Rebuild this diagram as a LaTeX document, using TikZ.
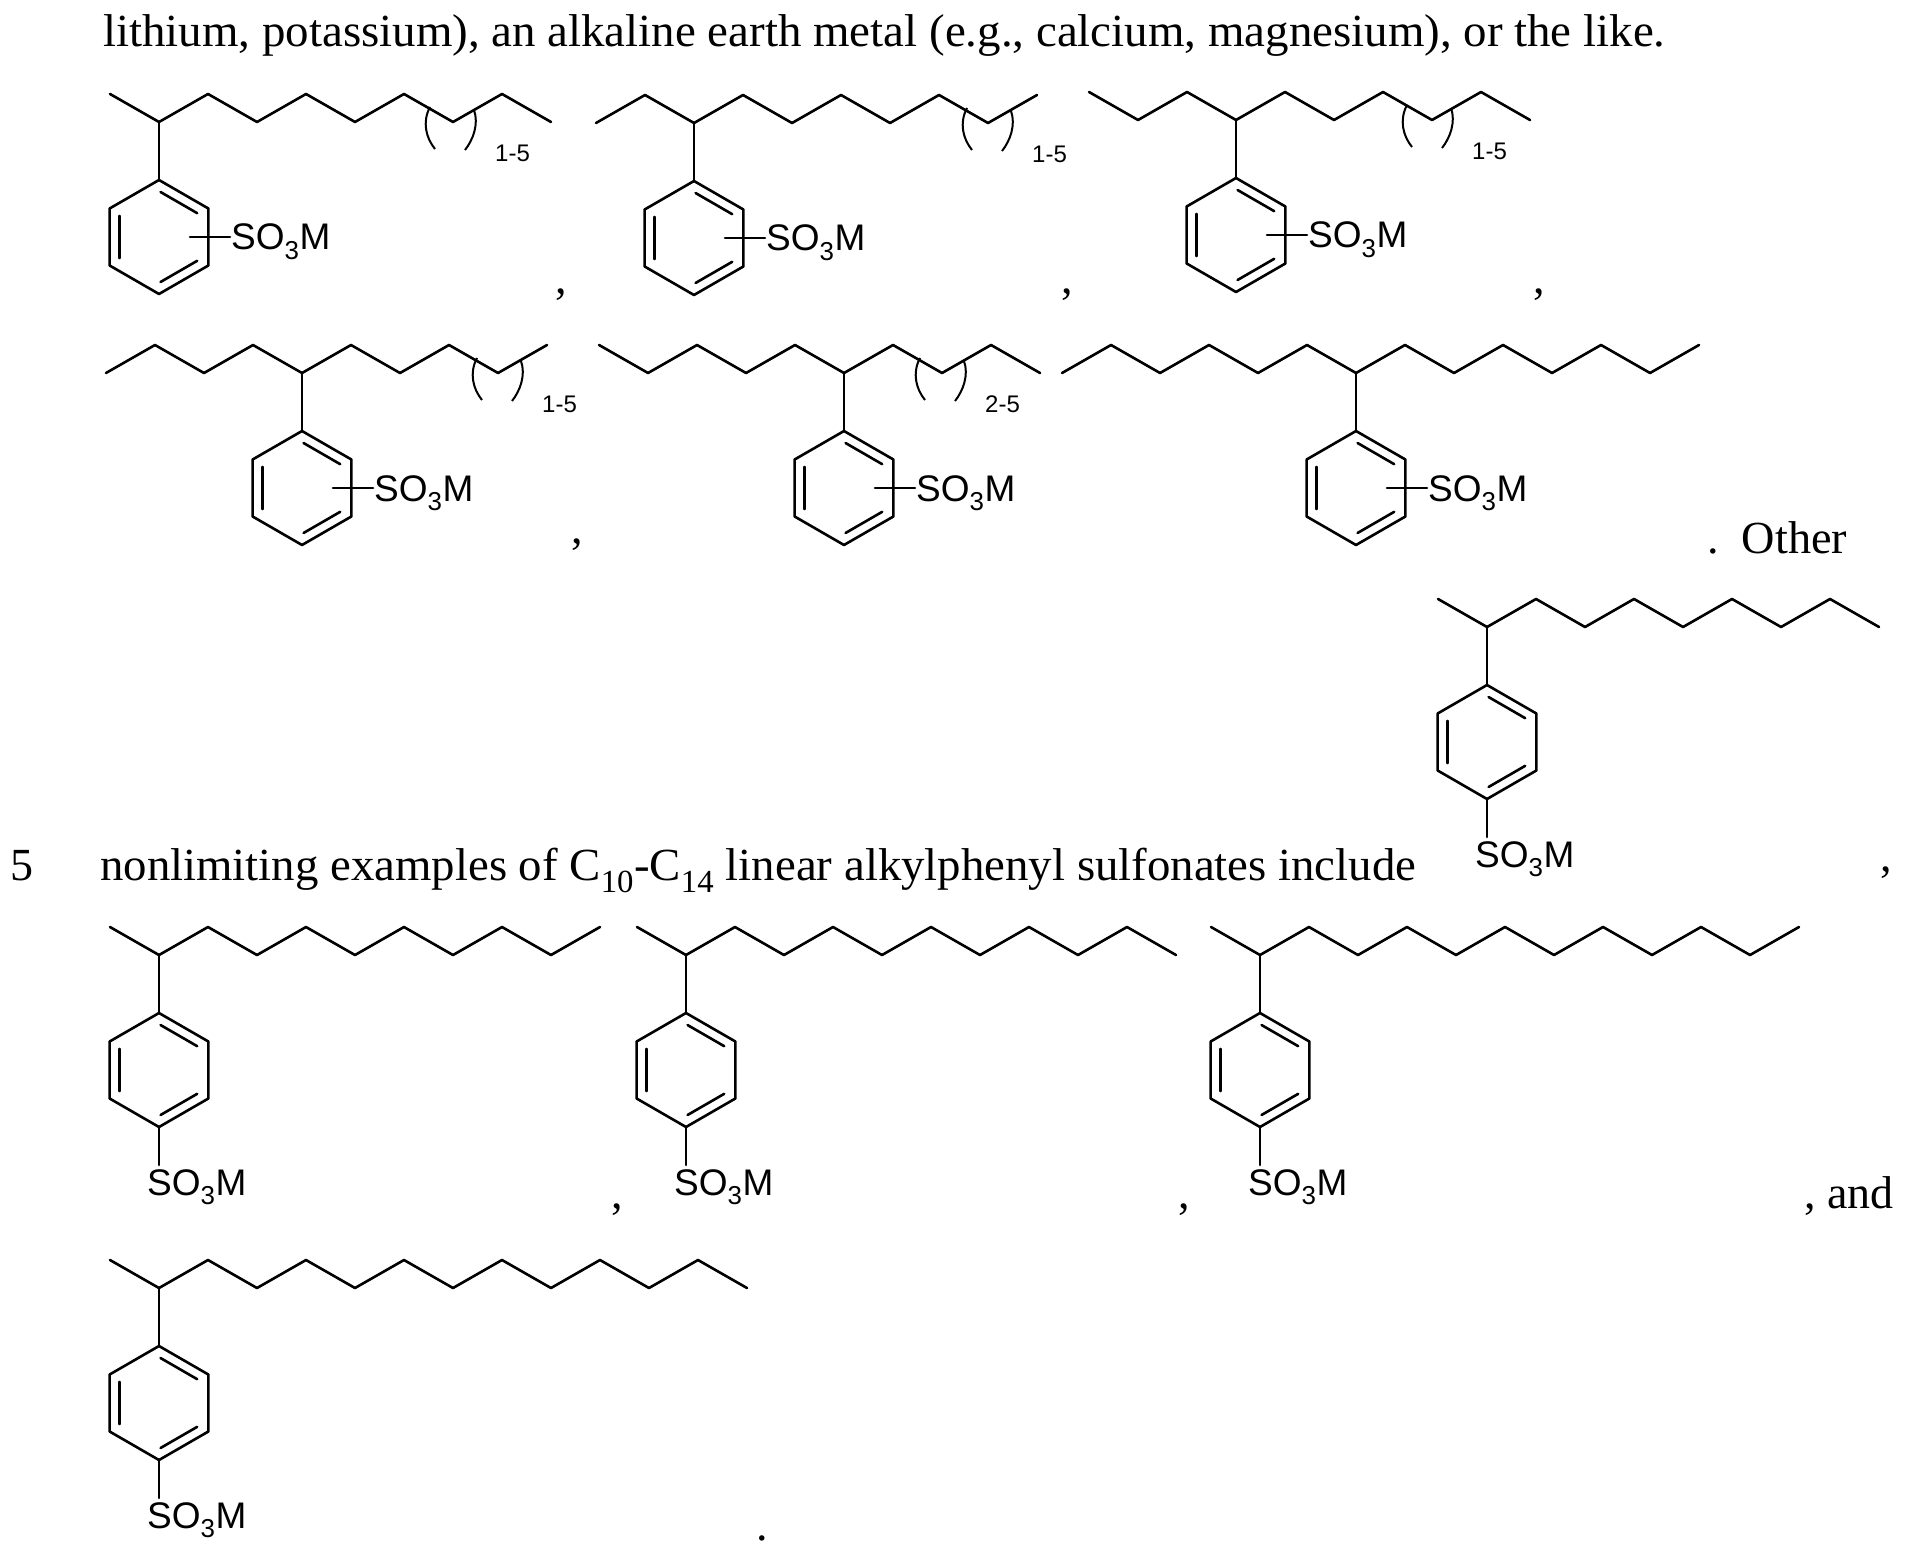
\documentclass[tikz,border=0pt]{standalone}
\usepackage{fontspec}
\setmainfont{Liberation Serif}
\newfontfamily\sansfam{Liberation Sans}
\usetikzlibrary{positioning}
\tikzset{bond/.style={line width=2.6pt, line cap=round, line join=round},
  brk/.style={line width=2pt},
  sulf/.style={inner sep=0pt, font=\sansfam\fontsize{37}{40}\selectfont},
  rng/.style={inner sep=0pt, font=\sansfam\fontsize{24}{26}\selectfont},
  prose/.style={inner sep=0pt, font=\fontsize{46}{50}\selectfont}}
% zigzag chain around the branch carbon (#1,#2)
\newcommand{\alkyl}[4]{\draw[bond] plot[samples at={#3,...,#4}] ({#1+49*\x},{#2-28*mod(abs(\x),2)});}
\newcommand{\benzene}[2]{%
  \begin{scope}[shift={(#1,#2)}]
    \draw[bond] (-90:57) -- (-30:57) -- (30:57) -- (90:57) -- (150:57) -- (210:57) -- cycle;
    \foreach \a in {-90,30,150} \draw[bond] (\a+2:45) -- (\a+58:45);
  \end{scope}}
\newcommand{\parens}[4]{%
  \draw[brk] ({#1-21},{#2-15}) .. controls ({#1-29},{#2}) and ({#1-25},{#2+16}) .. ({#1-16},{#2+27});
  \draw[brk] ({#1+23},{#2-12}) .. controls ({#1+28},{#2+2}) and ({#1+22},{#2+18}) .. ({#1+14},{#2+28});
  \node[rng, anchor=west] (#4) at ({#1+44},{#2+31}) {#3};}
\newcommand{\metamol}[5]{%
  \alkyl{#1}{#2}{#3}{#4}
  \draw[bond] (#1,#2) -- (#1,{#2+58});
  \benzene{#1}{#2+115}
  \draw[bond] ({#1+31},{#2+115}) -- ({#1+71},{#2+115});
  \node[sulf, anchor=base west] (#5) at ({#1+72},{#2+128}) {SO\textsubscript{3}M};}
\newcommand{\paramol}[5]{%
  \alkyl{#1}{#2}{#3}{#4}
  \draw[bond] (#1,#2) -- (#1,{#2+58});
  \benzene{#1}{#2+115}
  \draw[bond] (#1,{#2+172}) -- (#1,{#2+210});
  \node[sulf, anchor=base west] (#5) at ({#1-12},{#2+240}) {SO\textsubscript{3}M};}
\begin{document}
\begin{tikzpicture}[x=1pt, y=-1pt]
  \useasboundingbox (0,0) rectangle (1905,1554);
  % prose lines
  \node[prose, anchor=base west] (line1) at (103,47)
    {\resizebox{1562pt}{\height}{lithium, potassium), an alkaline earth metal (e.g., calcium, magnesium), or the like.}};
  \node[prose, anchor=base west] (num5) at (10,880) {5};
  \node[prose, anchor=base west] (line2) at (100,880)
    {\resizebox{1316pt}{\height}{nonlimiting examples of C\textsubscript{10}-C\textsubscript{14} linear alkylphenyl sulfonates include}};
  \node[prose, anchor=base west] (other) at (1707,553) {\resizebox{140pt}{\height}{.\ \ Other}};
  % first row
  \metamol{159}{122}{-1}{8}{sa}
  \parens{451}{122}{1-5}{na}
  \metamol{694}{123}{-2}{7}{sb}
  \parens{988}{123}{1-5}{nb}
  \metamol{1236}{120}{-3}{6}{sc}
  \parens{1428}{120}{1-5}{nc}
  \node[prose, anchor=base] (ca) at (561,293) {,};
  \node[prose, anchor=base] (cb) at (1067,293) {,};
  \node[prose, anchor=base] (cc) at (1539,293) {,};
  % second row
  \metamol{302}{373}{-4}{5}{sd}
  \parens{498}{373}{1-5}{nd}
  \metamol{844}{373}{-5}{4}{se}
  \parens{941}{373}{2-5}{ne}
  \metamol{1356}{373}{-6}{7}{sf}
  \node[prose, anchor=base] (cd) at (577,543) {,};
  % linear ones
  \paramol{1487}{627}{-1}{8}{sg}
  \node[prose, anchor=base] (cg) at (1886,871) {,};
  \paramol{159}{955}{-1}{9}{sh}
  \paramol{686}{955}{-1}{10}{si}
  \paramol{1260}{955}{-1}{11}{sj}
  \node[prose, anchor=base] (ch) at (617,1208) {,};
  \node[prose, anchor=base] (ci) at (1184,1208) {,};
  \node[prose, anchor=base west] (cand) at (1804,1208) {, and};
  \paramol{159}{1288}{-1}{12}{sk}
  \node[prose, anchor=base] (stop) at (762,1540) {.};
\end{tikzpicture}
\end{document}
